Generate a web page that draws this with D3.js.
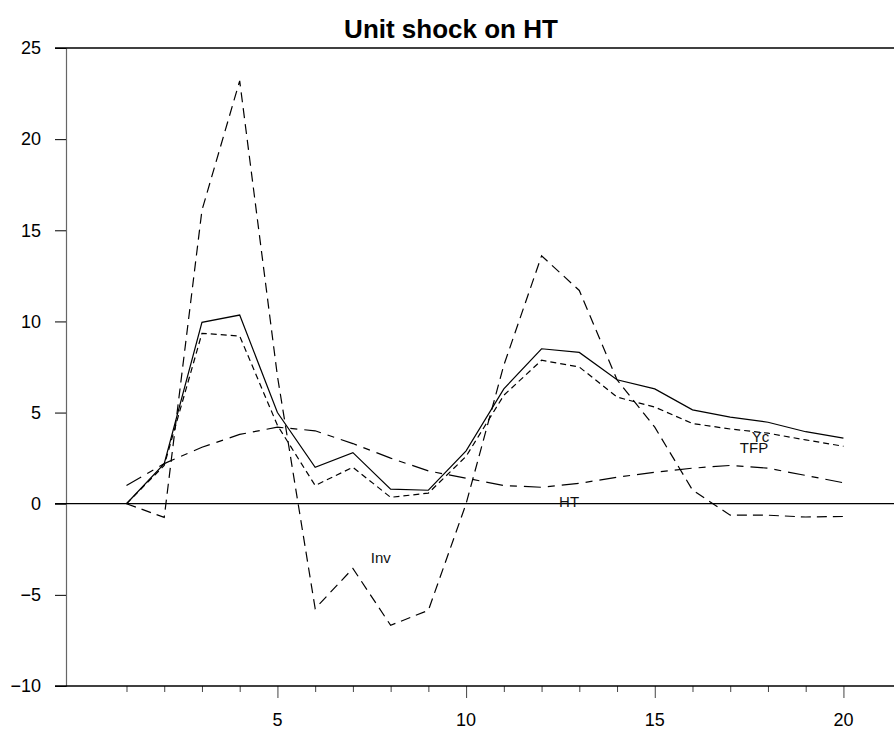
<!DOCTYPE html>
<html>
<head>
<meta charset="utf-8">
<script src="https://cdn.jsdelivr.net/npm/d3@7"></script>
<style>
  body { margin: 0; background: #fff; }
  svg { display: block; font-family: "Liberation Sans", Arial, sans-serif; }
</style>
</head>
<body>
<svg id="chart" width="894" height="729"></svg>
<script>
// Impulse responses, periods 1..20
const periods = d3.range(1, 21);
const yc  = [0, 2.2, 9.95, 10.35, 5.0, 2.0, 2.8, 0.8, 0.74, 2.9, 6.3, 8.5, 8.3, 6.8, 6.3, 5.15, 4.75, 4.47, 3.95, 3.6];
const tfp = [0, 2.1, 9.35, 9.2, 4.3, 1.0, 2.0, 0.35, 0.58, 2.6, 5.95, 7.87, 7.5, 5.85, 5.3, 4.4, 4.1, 3.87, 3.5, 3.15];
const ht  = [1.0, 2.2, 3.1, 3.8, 4.2, 4.0, 3.3, 2.5, 1.8, 1.4, 1.0, 0.9, 1.12, 1.45, 1.73, 1.95, 2.1, 1.95, 1.55, 1.15];
const inv = [0, -0.75, 16.1, 23.2, 7.0, -5.75, -3.55, -6.67, -5.85, 0, 7.6, 13.6, 11.7, 6.8, 4.2, 0.75, -0.63, -0.63, -0.73, -0.7];

const yTicks = [-10, -5, 0, 5, 10, 15, 20, 25];
const xLabels = [5, 10, 15, 20];

// label text and the period/value they sit at
const labels = [
  { text: 'Yc',  x: 17.8,  y: 3.4 },
  { text: 'TFP', x: 17.63, y: 2.8 },
  { text: 'HT',  x: 12.73, y: -0.2 },
  { text: 'Inv', x: 7.74,  y: -3.27 }
];

const svg = d3.select('#chart');
const plotLeft = 66, plotRight = 894, plotTop = 48, plotBottom = 686;

const x = d3.scaleLinear().domain([-0.603, 21.34]).range([plotLeft, plotRight]);
const y = d3.scaleLinear().domain([-10, 25]).range([plotBottom, plotTop]);

// title
svg.append('text')
  .attr('x', 451)
  .attr('y', 38)
  .attr('text-anchor', 'middle')
  .style('font-size', '26px')
  .style('font-weight', 'bold')
  .text('Unit shock on HT');

// y axis
const yAxis = svg.append('g')
  .attr('transform', `translate(${plotLeft},0)`)
  .call(d3.axisLeft(y).tickValues(yTicks).tickSize(11).tickPadding(14));
yAxis.select('.domain').attr('stroke', '#666').attr('stroke-width', 1.2);
yAxis.selectAll('text').style('font-size', '18px').attr('fill', '#000');

// x axis
const xAxis = svg.append('g')
  .attr('transform', `translate(0,${plotBottom})`)
  .call(d3.axisBottom(x).tickValues(periods).tickSize(6).tickFormat(''));
xAxis.select('.domain').remove();
xAxis.selectAll('.tick line')
  .attr('y2', d => d % 5 === 0 ? 12 : 6)
  .attr('stroke', '#444');

svg.append('g')
  .selectAll('text')
  .data(xLabels)
  .enter()
  .append('text')
  .attr('x', d => x(d))
  .attr('y', 726)
  .attr('text-anchor', 'middle')
  .style('font-size', '18px')
  .text(d => d);

// frame lines: top, bottom, zero
[25, -10, 0].forEach(v => {
  svg.append('line')
    .attr('x1', 55).attr('x2', plotRight)
    .attr('y1', y(v)).attr('y2', y(v))
    .attr('stroke', '#000')
    .attr('stroke-width', 1.3);
});

const line = d3.line()
  .x((d, i) => x(periods[i]))
  .y(d => y(d));

const series = [
  { values: yc,  dash: null },
  { values: tfp, dash: '6,4' },
  { values: ht,  dash: '17,7,7,7' },
  { values: inv, dash: '10,6' }
];

svg.append('g')
  .selectAll('path')
  .data(series)
  .enter()
  .append('path')
  .attr('d', d => line(d.values))
  .attr('fill', 'none')
  .attr('stroke', '#000')
  .attr('stroke-width', 1.2)
  .attr('stroke-dasharray', d => d.dash);

svg.append('g')
  .selectAll('text')
  .data(labels)
  .enter()
  .append('text')
  .attr('x', d => x(d.x))
  .attr('y', d => y(d.y))
  .attr('text-anchor', 'middle')
  .attr('fill', '#111')
  .style('font-size', '15px')
  .text(d => d.text);
</script>
</body>
</html>
